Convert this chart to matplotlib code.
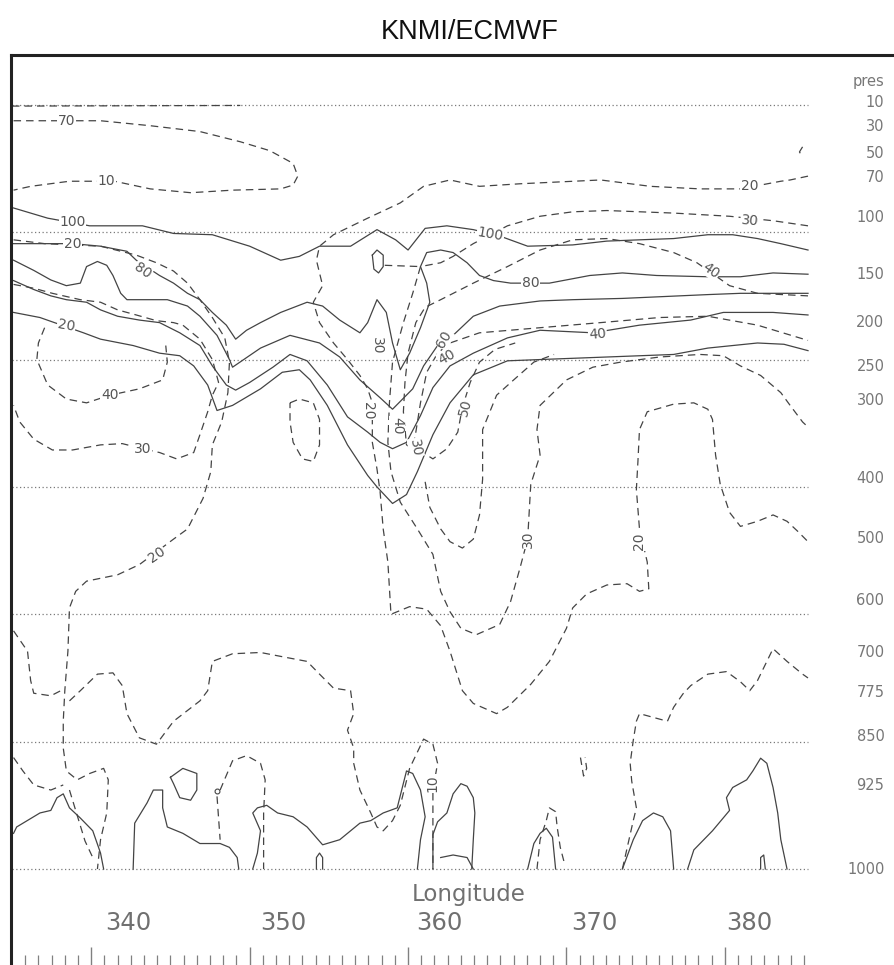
import matplotlib
matplotlib.use("Agg")
import matplotlib.pyplot as plt
from matplotlib.lines import Line2D
from matplotlib import font_manager

OUTPUT_IMAGE = "out.png"
LINE_COLOR = "#444444"
TEXT_COLOR = "#707070"

LON_RANGE = (332.5, 383.75)
LEV_RANGE = (60, 0)
DOTTED_LEVELS = [0, 10, 20, 30, 40, 50, 60]
LON_TICKS = [340, 350, 360, 370, 380]

PRES_LABELS = ["10", "30", "50", "70", "100", "150", "200", "250", "300",
               "400", "500", "600", "700", "775", "850", "925", "1000"]
PRES_LEVELS = [-0.3, 1.6, 3.7, 5.6, 8.7, 13.2, 17.0, 20.4, 23.1,
               29.2, 33.9, 38.8, 42.9, 46.0, 49.5, 53.3, 59.9]

# solid contours (lon, model level)
s_100 = [(332.6, 8.1), (334.8, 8.9), (337.5, 9.5), (340.9, 9.5), (342.9, 10.1), (345.4, 10.2),
         (347.8, 11.1), (349.8, 12.2), (351.0, 11.9), (352.3, 11.1), (354.3, 11.1), (356.0, 9.8),
         (357.2, 10.6), (358.0, 11.4), (359.1, 9.7), (360.5, 9.5), (362.2, 9.8), (363.9, 10.3),
         (365.7, 11.1), (368.6, 11.0), (370.8, 10.7), (372.9, 10.6), (375.1, 10.5), (377.3, 10.2),
         (378.9, 10.2), (380.5, 10.5), (382.0, 10.9), (383.75, 11.4)]
s_80 = [(332.6, 10.9), (334.5, 10.9), (336.4, 10.9), (338.2, 11.1), (339.9, 11.5), (340.5, 12.2),
        (342.0, 13.4), (342.9, 14.0), (343.8, 14.8), (344.6, 15.3), (345.4, 16.3), (346.3, 17.3),
        (346.9, 18.4), (347.6, 17.7), (348.5, 17.1), (349.8, 16.3), (351.5, 15.5), (352.5, 15.8),
        (353.6, 16.9), (354.9, 17.9), (355.4, 17.1), (356.0, 15.3), (356.6, 16.3), (357.0, 18.7),
        (357.5, 20.8), (358.1, 19.5), (358.8, 17.5), (359.4, 15.5), (359.2, 14.0), (358.8, 12.7),
        (359.2, 11.6), (360.1, 11.4), (360.9, 11.6), (361.8, 12.4), (362.6, 13.4), (363.5, 13.8),
        (364.6, 14.0), (367.1, 14.0), (369.7, 13.4), (371.8, 13.2), (374.0, 13.4), (377.3, 13.5),
        (379.4, 13.5), (381.5, 13.2), (383.75, 13.3)]
s_60 = [(332.6, 12.2), (333.9, 13.0), (335.0, 13.75), (336.0, 14.2), (336.9, 14.0), (337.3, 12.7),
        (338.0, 12.3), (338.6, 12.6), (339.0, 13.4), (339.5, 14.8), (339.9, 15.3), (341.2, 15.3),
        (342.5, 15.3), (343.8, 15.8), (344.6, 16.6), (345.7, 18.1), (346.5, 20.0), (346.7, 20.6),
        (348.5, 19.1), (350.4, 18.1), (352.3, 18.7), (353.6, 19.8), (354.9, 21.6), (356.2, 23.0),
        (357.0, 23.9), (358.3, 22.3), (359.0, 20.5), (359.9, 18.9), (360.9, 18.1), (362.2, 16.6),
        (363.9, 15.8), (366.5, 15.4), (368.6, 15.3), (371.8, 15.2), (377.3, 14.9), (379.4, 14.8),
        (383.75, 14.8)]
s_40 = [(332.6, 13.8), (333.9, 14.5), (335.0, 15.0), (336.0, 15.3), (337.3, 15.5), (338.2, 16.1),
        (339.3, 16.6), (340.7, 16.9), (342.0, 17.1), (343.3, 17.9), (344.6, 18.9), (345.4, 20.5),
        (346.3, 22.0), (346.9, 22.4), (347.8, 21.8), (349.3, 20.6), (350.4, 19.6), (351.5, 20.1),
        (352.8, 22.0), (354.1, 24.5), (355.4, 25.7), (356.2, 26.5), (357.0, 27.0), (357.9, 26.5),
        (358.8, 24.4), (359.6, 22.2), (360.7, 20.5), (362.2, 19.5), (364.4, 18.3), (366.5, 17.7),
        (369.9, 17.9), (372.9, 17.3), (376.2, 16.9), (378.3, 16.3), (381.5, 16.3), (383.75, 16.5)]
s_20 = [(332.6, 16.3), (334.3, 16.7), (337.1, 17.9), (338.2, 18.4), (340.3, 18.9), (342.0, 19.5),
        (343.3, 19.7), (344.2, 20.5), (345.1, 22.0), (345.7, 24.0), (346.7, 23.6), (348.5, 22.3),
        (349.9, 21.0), (351.0, 20.8), (351.7, 21.6), (352.8, 23.6), (354.1, 26.7), (355.4, 29.1),
        (356.0, 30.0), (357.0, 31.3), (357.9, 30.6), (358.6, 28.8), (359.6, 25.9), (360.7, 23.4),
        (362.2, 21.2), (364.4, 20.1), (366.5, 20.0), (370.8, 19.8), (375.1, 19.6), (377.3, 19.1),
        (380.5, 18.7), (382.2, 18.8), (383.75, 19.3)]
s_oval = [(355.7, 11.8), (356.0, 11.4), (356.4, 11.8), (356.4, 12.7), (356.1, 13.2), (355.8, 12.9),
          (355.7, 11.8)]
s_bump1 = [(332.6, 57.2), (332.8, 56.7), (334.3, 55.6), (335.0, 55.4), (335.4, 54.4), (335.8, 54.1),
           (336.2, 55.2), (336.9, 56.0), (337.7, 57.0), (338.2, 58.75), (338.4, 60)]
s_bump2 = [(340.3, 60), (340.4, 56.4), (341.2, 54.8), (341.6, 53.8), (342.2, 53.8), (342.2, 55.2),
           (342.5, 56.7), (343.5, 57.2), (344.6, 58.0), (345.9, 58.0), (346.5, 58.3), (347.0, 59.1),
           (347.1, 60)]
s_loop = [(342.7, 52.8), (343.5, 52.1), (344.4, 52.5), (344.4, 53.8), (344.0, 54.6), (343.3, 54.4),
          (342.9, 53.3), (342.7, 52.8)]
s_bump3 = [(348.0, 60), (348.3, 58.75), (348.5, 57.0), (348.0, 55.6), (348.3, 55.2), (348.9, 55.0),
           (349.6, 55.6), (350.6, 55.9), (351.5, 56.7), (352.5, 58.1), (353.6, 57.7), (354.9, 56.4),
           (355.6, 56.2), (356.4, 55.6), (357.3, 55.2), (357.9, 52.3), (358.3, 52.5), (358.8, 53.8),
           (359.1, 55.9), (358.8, 57.7), (358.6, 60)]
s_small1 = [(352.1, 60), (352.1, 59.1), (352.3, 58.75), (352.5, 59.1), (352.5, 60)]
s_bump4 = [(359.6, 60), (359.6, 57.3), (359.9, 56.3), (360.5, 55.6), (360.9, 54.1), (361.4, 53.3),
           (361.8, 53.5), (362.2, 54.4), (362.3, 55.6), (362.2, 57.7), (362.1, 60)]
s_small2 = [(360.1, 59.1), (360.9, 58.9), (361.8, 59.1), (362.2, 60)]
s_bump5 = [(365.7, 60), (366.1, 58.0), (366.5, 57.2), (366.9, 56.8), (367.3, 57.5), (367.5, 60)]
s_bump6 = [(371.8, 60), (372.5, 57.7), (373.1, 56.2), (373.8, 55.6), (374.4, 55.9), (374.9, 57.0),
           (375.1, 60)]
s_bump7 = [(376.0, 60), (376.4, 58.5), (377.6, 57.0), (378.7, 55.4), (378.5, 54.4), (378.9, 53.6),
           (379.8, 53.0), (380.2, 52.3), (380.7, 51.3), (381.1, 51.7), (381.5, 53.6), (381.8, 55.6),
           (382.0, 57.7), (382.4, 60)]
s_tiny = [(380.7, 60), (380.7, 59.1), (380.9, 58.9), (381.0, 60)]

# dashed contours (lon, model level)
d_top = [(332.5, 0.1), (347.2, 0.05)]
d_10 = [(332.6, 1.25), (338.2, 1.25), (341.4, 1.64), (344.6, 2.1), (347.2, 2.9), (349.1, 3.6),
        (350.6, 4.6), (350.9, 5.6), (350.6, 6.3), (349.8, 6.6), (346.7, 6.7), (344.0, 6.9),
        (341.4, 6.6), (339.1, 6.0), (336.2, 6.0), (333.7, 6.4), (332.6, 6.7)]
d_20 = [(383.75, 5.6), (382.6, 5.9), (382.0, 6.0), (379.4, 6.6), (376.8, 6.6), (373.6, 6.4),
        (370.4, 5.9), (365.2, 6.2), (362.6, 6.4), (360.7, 5.9), (359.0, 6.4), (357.5, 7.7),
        (355.4, 8.9), (353.2, 10.2), (352.3, 11.1), (352.1, 12.2), (352.5, 14.2), (351.9, 15.5),
        (352.3, 17.1), (353.2, 18.7), (354.1, 20.0), (354.9, 21.25), (355.4, 22.3), (355.7, 23.4),
        (355.7, 26.5), (356.0, 28.6), (356.2, 30.4), (356.4, 33.3), (356.7, 35.9), (356.9, 40.0),
        (358.1, 39.4), (359.2, 39.6), (360.1, 40.9), (360.7, 42.9), (361.5, 46.0), (362.2, 47.0),
        (363.7, 47.8), (364.4, 47.3), (365.9, 45.5), (367.1, 43.7), (368.2, 41.1), (368.6, 39.5),
        (369.5, 38.4), (370.8, 37.7), (372.1, 37.6), (372.9, 38.2), (373.5, 38.0), (373.4, 35.9),
        (372.9, 33.3), (372.7, 30.2), (372.8, 28.0), (372.9, 25.5), (373.4, 24.1), (375.1, 23.5),
        (376.4, 23.4), (377.3, 23.9), (377.6, 24.7), (377.8, 27.5), (378.1, 29.8), (378.7, 32.0),
        (379.4, 33.1), (380.5, 32.7), (381.5, 32.2), (382.4, 32.7), (383.1, 33.5), (383.75, 34.3)]
d_30 = [(383.75, 9.5), (381.5, 9.1), (378.7, 8.75), (375.1, 8.5), (370.8, 8.3), (368.6, 8.4),
        (366.5, 8.75), (364.4, 9.5), (362.2, 10.9), (360.9, 11.9), (360.1, 12.4), (358.8, 12.7),
        (358.3, 14.8), (357.7, 17.1), (357.0, 20.2), (356.8, 23.4), (356.7, 26.5), (356.9, 28.8),
        (357.5, 31.2), (358.6, 33.3), (359.6, 35.3), (360.1, 38.2), (360.7, 39.8), (361.4, 41.1),
        (362.4, 41.6), (363.9, 40.8), (364.6, 39.0), (365.2, 36.4), (365.7, 34.1), (365.9, 29.8),
        (366.5, 27.5), (366.3, 25.5), (366.5, 23.6), (368.2, 21.6), (369.9, 20.6), (371.7, 20.2),
        (374.2, 19.8), (376.8, 19.6), (378.3, 19.7), (379.4, 20.5), (380.7, 21.25), (382.0, 22.6),
        (382.6, 23.6), (383.4, 24.9), (383.75, 25.3)]
d_30_link = [(356.5, 12.6), (358.8, 12.7)]
d_40 = [(383.75, 15.0), (380.5, 14.8), (378.7, 14.2), (376.6, 12.4), (375.1, 11.6), (372.9, 10.9),
        (370.8, 10.5), (368.6, 10.6), (366.5, 11.4), (364.4, 12.7), (362.2, 14.0), (360.1, 15.3),
        (359.1, 15.9), (358.5, 17.1), (358.0, 19.5), (357.8, 21.8), (357.7, 24.1), (357.9, 26.7),
        (358.3, 27.0), (358.5, 25.7), (358.8, 23.4), (359.2, 21.0), (359.9, 19.5), (360.7, 18.7),
        (362.6, 17.9), (366.5, 17.5), (370.4, 17.1), (374.2, 16.7), (377.3, 16.6), (380.5, 17.3),
        (383.75, 18.5)]
d_50 = [(358.7, 27.1), (359.6, 27.8), (360.5, 27.0), (361.2, 25.7), (361.5, 23.75), (362.0, 21.8),
        (362.6, 20.2), (363.6, 19.2), (364.9, 18.7)]
d_40b = [(359.1, 29.6), (359.4, 31.6), (360.1, 33.3), (360.7, 34.3), (361.5, 34.8), (362.2, 34.1),
         (362.6, 32.2), (362.8, 29.4), (362.8, 25.5), (363.7, 22.8), (364.8, 21.6), (366.1, 20.2),
         (367.4, 19.6)]
d_oval = [(350.4, 23.4), (351.0, 23.1), (351.9, 23.4), (352.3, 24.7), (352.3, 26.7), (351.9, 28.0),
          (351.2, 27.8), (350.6, 26.5), (350.4, 24.9), (350.4, 23.4)]
d_20_left = [(332.6, 10.6), (334.6, 10.9), (338.2, 11.1), (340.5, 11.8), (341.8, 12.4), (342.9, 13.05),
             (343.8, 14.0), (344.6, 15.3), (345.4, 16.7), (346.2, 18.3), (346.5, 20.2), (346.4, 22.6),
             (346.0, 24.9), (345.4, 26.7), (345.3, 28.8), (344.8, 30.9), (343.8, 33.3), (342.9, 34.1),
             (341.8, 35.1), (340.7, 36.1), (339.3, 36.9), (337.3, 37.4), (336.6, 38.2), (336.2, 39.5),
             (336.1, 42.9), (335.9, 46.0), (335.8, 48.4), (335.8, 50.5), (336.0, 52.3), (336.7, 53.0),
             (337.5, 52.5), (338.4, 52.1), (338.7, 53.0), (338.6, 55.6), (338.2, 57.7), (338.0, 60)]
d_30_left = [(332.6, 14.1), (333.9, 14.4), (335.1, 14.8), (336.9, 15.3), (338.2, 15.5), (339.3, 16.1),
             (340.5, 16.5), (341.8, 16.95), (342.9, 17.1), (343.5, 17.3), (344.6, 18.4), (345.4, 20.0),
             (345.8, 21.8), (345.4, 22.8), (345.1, 24.1), (344.6, 25.9), (344.2, 27.3), (343.1, 27.8),
             (342.0, 27.3), (340.9, 27.0), (339.6, 26.6), (338.2, 26.7), (336.4, 27.1), (335.1, 27.1),
             (333.9, 26.25), (333.0, 24.9), (332.6, 23.6)]
d_40_left = [(334.6, 17.5), (334.2, 18.7), (334.1, 20.0), (334.8, 22.0), (336.0, 23.1), (337.3, 23.4),
             (338.8, 22.8), (340.7, 22.3), (342.2, 21.6), (342.5, 20.2), (342.4, 18.9)]
d_hump = [(336.2, 46.8), (336.9, 46.0), (338.0, 44.7), (339.0, 44.6), (339.6, 45.6), (339.9, 47.8),
          (340.7, 49.7), (341.8, 50.2), (342.9, 48.4), (344.6, 46.8), (345.1, 46.0), (345.4, 43.7),
          (346.7, 43.1), (348.5, 43.0), (350.2, 43.4), (351.5, 43.7), (352.3, 44.7), (353.2, 45.8),
          (354.3, 46.0), (354.5, 47.8), (354.1, 49.1), (354.5, 50.5), (354.5, 51.7), (354.9, 53.8),
          (355.6, 55.6), (356.0, 56.7), (356.4, 57.0), (357.0, 56.2), (357.5, 55.0), (358.1, 52.1),
          (359.0, 49.8), (359.6, 50.2), (359.9, 51.7), (359.6, 53.8), (359.6, 55.6), (359.6, 60)]
d_lb1 = [(332.6, 41.3), (333.5, 42.9), (333.7, 45.2), (333.9, 46.2), (335.0, 46.4), (335.8, 45.9)]
d_lb2 = [(332.6, 51.25), (333.2, 52.3), (333.9, 53.4), (335.0, 53.8), (335.8, 53.4)]
d_lb3 = [(336.2, 53.8), (336.7, 55.8), (337.2, 57.8), (337.7, 59.1)]
d_stem = [(345.7, 54.3), (345.9, 57.7)]
d_bump = [(345.9, 53.8), (346.7, 51.5), (347.6, 51.1), (348.5, 51.7), (348.8, 53.0), (348.7, 55.6),
          (348.7, 60)]
d_bump5 = [(366.3, 60), (366.5, 57.7), (366.9, 56.2), (367.1, 55.2), (367.5, 55.5), (367.6, 56.7),
           (367.8, 58.3), (368.1, 59.7)]
d_squiggle = [(369.1, 51.25), (369.3, 52.7), (369.5, 52.1), (369.4, 51.25)]
d_right = [(371.8, 60), (372.5, 56.2), (372.7, 55.2), (372.4, 53.1), (372.3, 51.7), (372.5, 49.9),
           (372.7, 48.4), (372.9, 47.8), (373.8, 48.1), (374.7, 48.4), (375.1, 47.3), (375.7, 46.25),
           (376.2, 45.6), (377.3, 44.7), (378.5, 44.5), (379.4, 45.3), (380.0, 46.0), (380.5, 45.2),
           (381.1, 43.7), (381.5, 42.7), (382.4, 43.7), (383.4, 44.7), (383.75, 45.0)]
d_corner = [(383.4, 3.3), (383.2, 3.7), (383.4, 4.1)]
small_ring = (345.7, 53.9)

LABEL_TEXT = ["70", "10", "100", "20", "80", "20", "40", "30", "20", "100", "80", "40", "20",
              "30", "40", "30", "20", "40", "30", "50", "60", "40", "30", "20", "10"]
LABEL_LON = [336.0, 338.6, 336.4, 336.4, 340.9, 336.0, 338.8, 340.9, 341.8, 363.3, 365.9, 377.5,
             380.0, 380.0, 370.2, 356.0, 355.4, 357.3, 358.5, 361.7, 360.3, 360.5, 365.7, 372.9, 359.6]
LABEL_LEV = [1.25, 6.0, 9.2, 10.9, 13.0, 17.3, 22.8, 27.0, 35.3, 10.2, 14.0, 13.0,
             6.4, 9.1, 18.0, 18.9, 24.0, 25.2, 26.9, 23.75, 18.4, 19.8, 34.1, 34.3, 53.3]
LABEL_ROT = [0, 0, 0, 0, -35, -10, 0, 0, 35, -10, 0, -35,
             0, -5, 5, -90, -90, -90, -80, 75, 60, 30, 90, 90, 90]


def main():
    fig = plt.figure(figsize=(8.95, 9.65), dpi=100)
    ax = fig.add_axes([12 / 895, 96 / 965, 796 / 895, 768 / 965])
    ax.set_xlim(*LON_RANGE)
    ax.set_ylim(*LEV_RANGE)
    for side in ax.spines.values():
        side.set_visible(False)

    for lev in DOTTED_LEVELS:
        ax.axhline(lev, color="#7a7a7a", lw=0.9, dashes=(1, 2.0), clip_on=False)

    solid = [s_100, s_80, s_60, s_40, s_20, s_oval, s_bump1, s_bump2, s_loop, s_bump3,
             s_small1, s_bump4, s_small2, s_bump5, s_bump6, s_bump7, s_tiny]
    dashed = [d_top, d_10, d_20, d_30, d_30_link, d_40, d_50, d_40b, d_oval, d_20_left,
              d_30_left, d_40_left, d_hump, d_lb1, d_lb2, d_lb3, d_stem, d_bump, d_bump5,
              d_squiggle, d_right, d_corner]
    for line in solid:
        xs, ys = zip(*line)
        ax.plot(xs, ys, color=LINE_COLOR, lw=0.9, solid_joinstyle="round", clip_on=False)
    for line in dashed:
        xs, ys = zip(*line)
        ax.plot(xs, ys, color=LINE_COLOR, lw=0.9, dashes=(6, 4), clip_on=False)
    ax.plot([small_ring[0]], [small_ring[1]], marker="o", ms=3.5, mfc="none",
            mec=LINE_COLOR, mew=0.8)

    for txt, lon, lev, rot in zip(LABEL_TEXT, LABEL_LON, LABEL_LEV, LABEL_ROT):
        ax.text(lon, lev, txt, fontsize=10, color="#555555", rotation=rot,
                ha="center", va="center", rotation_mode="anchor",
                bbox=dict(boxstyle="square,pad=0.05", facecolor="white", edgecolor="none"))

    # longitude axis text
    ax.set_xticks(LON_TICKS)
    ax.set_xticklabels([str(t) for t in LON_TICKS])
    ax.tick_params(axis="x", length=0, pad=30, labelsize=17.5, labelcolor=TEXT_COLOR)
    ax.text(361.9, 62.5, "Longitude", fontsize=16.5, color=TEXT_COLOR,
            ha="center", va="baseline", clip_on=False)

    # pressure labels on the right
    ax.yaxis.tick_right()
    ax.set_yticks(PRES_LEVELS)
    ax.set_yticklabels(PRES_LABELS)
    ax.tick_params(axis="y", length=0, pad=55, labelsize=10.5, labelcolor="#777777")
    for lab in ax.get_yticklabels():
        lab.set_horizontalalignment("right")
    ax.text(1.0 + 76 / 796, -1.8, "pres", transform=ax.get_yaxis_transform(),
            fontsize=10.5, color="#777777", ha="right", va="center", clip_on=False)

    # bottom tick strip
    tax = fig.add_axes([12 / 895, 0.0, 796 / 895, 0.001])
    tax.set_xlim(0, 796 / 13.2)
    tax.set_xticks([6, 18, 30, 42, 54])
    tax.set_xticks(range(1, 61), minor=True)
    tax.tick_params(axis="x", which="major", direction="in", length=13, width=1.0,
                    color="#808080", labelbottom=False)
    tax.tick_params(axis="x", which="minor", direction="in", length=7.5, width=0.9,
                    color="#808080")
    tax.set_yticks([])
    tax.patch.set_visible(False)
    for side in tax.spines.values():
        side.set_visible(False)

    # outer frame
    fig.add_artist(Line2D([11 / 895, 11 / 895], [0, 1 - 55 / 965], transform=fig.transFigure,
                          color="#222222", lw=2.2))
    fig.add_artist(Line2D([11 / 895, 1], [1 - 55 / 965, 1 - 55 / 965], transform=fig.transFigure,
                          color="#222222", lw=2.2))

    names = {f.name for f in font_manager.fontManager.ttflist}
    if "Liberation Sans Narrow" in names:
        title_font, title_size = "Liberation Sans Narrow", 22.5
    else:
        title_font, title_size = "Liberation Sans", 19.5
    fig.text(470 / 895, 1 - 32 / 965, "KNMI/ECMWF", family=title_font, fontsize=title_size,
             color="#111111", ha="center", va="center")

    fig.savefig(OUTPUT_IMAGE, dpi=100)


if __name__ == "__main__":
    main()
